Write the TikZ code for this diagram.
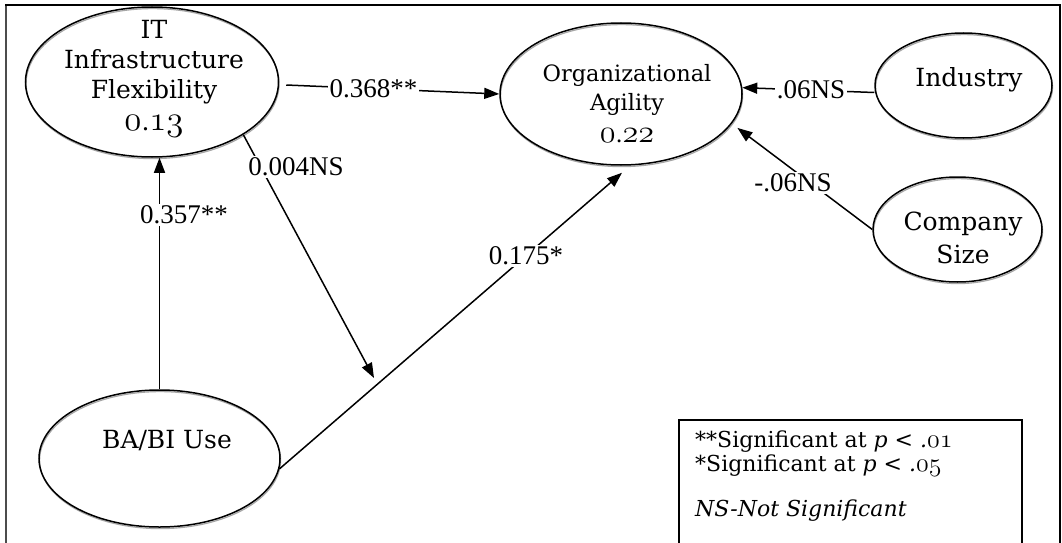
\documentclass[tikz,border=0pt]{standalone}
\usepackage{graphicx}
\usepackage{fontspec}
\setmainfont{DejaVu Serif}
\newfontfamily\lblfont{Liberation Serif}
\usetikzlibrary{arrows.meta,calc,shapes.geometric}
\newcommand\osn[2][1.4]{\scalebox{#1}{\usefont{OML}{lmm}{b}{it}#2}}
\begin{document}
\begin{tikzpicture}[x=1pt,y=-1pt,
 ell/.style={draw, line width=1.5pt, ellipse, inner sep=0pt,
   preaction={draw=black!35, line width=1.2pt, transform canvas={shift={(0.6pt,-1.6pt)}}}},
 arr/.style={line width=1.5pt, -{Triangle[length=15pt,width=11pt]}},
 lbl/.style={font=\lblfont\fontsize{27}{28}\selectfont, fill=white, inner sep=2pt},
 ntxt/.style={font=\fontsize{25}{30}\selectfont, align=center, inner sep=0pt},
 otxt/.style={font=\fontsize{22.5}{28.5}\selectfont, align=center, inner sep=0pt},
 leg/.style={font=\fontsize{22}{24}\selectfont, anchor=west, inner sep=0pt}]
\clip (0,0) rectangle (1062,543);
\fill[white] (0,0) rectangle (1062,543);
% frame
\draw[line width=1.2pt, draw=black!70] (6,5) -- (6,560);
\draw[line width=1.5pt] (1060,5) -- (1060,560);
\draw[line width=2.5pt] (5,5) -- (1061,5);
% ellipses
\node[ell, minimum width=253pt, minimum height=150pt] (it) at (152,82) {};
\node[ell, minimum width=242pt, minimum height=142pt] (oa) at (621,94) {};
\node[ell, minimum width=177pt, minimum height=105pt] (ind) at (963.5,85.5) {};
\node[ell, minimum width=169pt, minimum height=105pt] (cs) at (957.5,229.5) {};
\node[ell, minimum width=241pt, minimum height=137pt] (ba) at (159.5,458.5) {};
% texts
\node[ntxt] (itt) at (154,79) {IT\\Infrastructure\\Flexibility\\[2pt]\osn{0}.\osn{13}};
\node[otxt] (oat) at (627,104) {Organizational\\Agility\\[4pt]\osn[1.55]{0}.\osn[1.55]{22}};
\node[ntxt] (indt) at (969,80) {Industry};
\node[ntxt] (cst) at (963,238) {Company\\[3pt]Size};
\node[ntxt] (bat) at (167,441) {BA/BI Use};
% connectors
\coordinate (mid) at (374,378);
\draw[arr] ($(it.east)+(7,3)$) -- node[lbl, pos=0.41] (l1) {0.368**} (oa.west);
\draw[arr] (ba.north) -- (ba.north |- it.south);
\node[lbl] (l2) at (184,215) {0.357**};
\draw[arr] (it.-30) -- (mid);
\node[lbl] (l3) at (296,167) {0.004NS};
\draw[arr] (ba.-5) -- node[lbl, pos=0.72] (l4) {0.175*} ($(oa.south)+(1,7)$);
\draw[arr] ($(ind.west)+(0,7)$) -- node[lbl, pos=0.48] (l5) {.06NS} (oa.3);
\draw[arr, shorten >=7pt] (cs.west) -- (oa.-15);
\node[lbl] (l6) at (793,183) {-.06NS};
% legend
\draw[line width=1.3pt] (679,420) rectangle (1022,560);
\node[leg] (g1) at (695,442) {**Significant at \textit{p < .}\osn[1.25]{01}};
\node[leg] (g2) at (695,466) {*Significant at \textit{p < .}\osn[1.25]{05}};
\node[leg] (g3) at (695,511) {\textit{NS-Not Significant}};
\end{tikzpicture}
\end{document}
